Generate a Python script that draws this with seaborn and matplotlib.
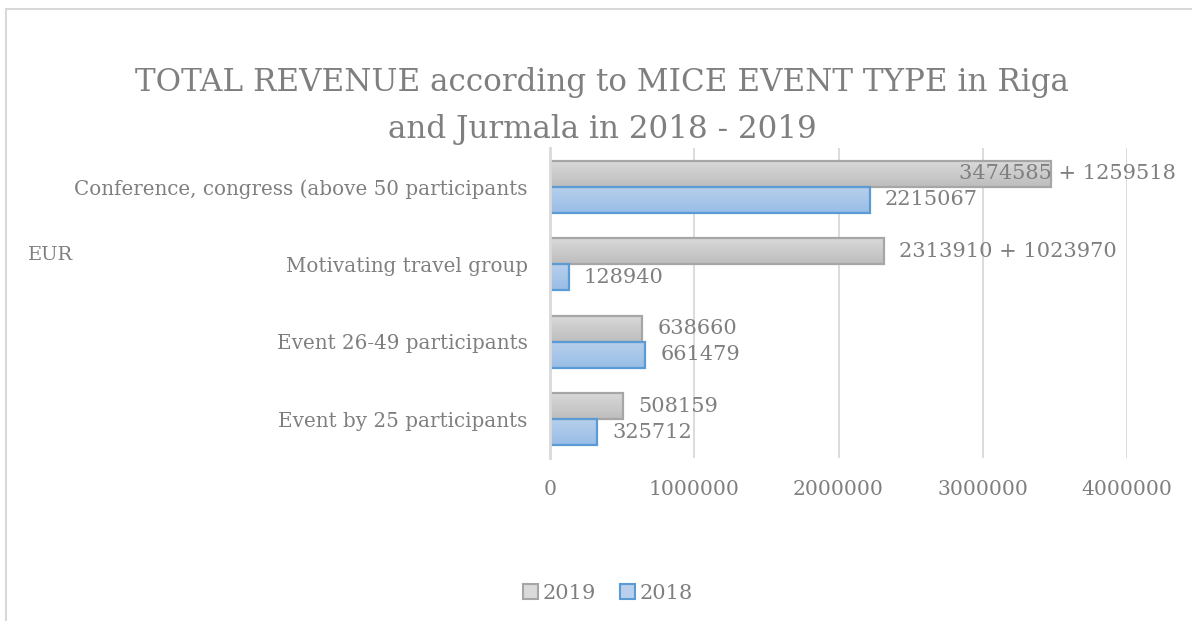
import numpy as np
import pandas as pd
import matplotlib
matplotlib.use("Agg")
import matplotlib.pyplot as plt
import seaborn as sns
from matplotlib.colors import LinearSegmentedColormap
from matplotlib.patches import Rectangle, Patch

# data
categories = [
    "Conference, congress (above 50 participants",
    "Motivating travel group",
    "Event 26-49 participants",
    "Event by 25 participants",
]
years = ["2019", "2018"]
revenue_2019 = [3474585, 2313910, 638660, 508159]
revenue_2018 = [2215067, 128940, 661479, 325712]
labels_2019 = ["3474585 + 1259518", "2313910 + 1023970", "638660", "508159"]
labels_2018 = ["2215067", "128940", "661479", "325712"]
x_ticks = [0, 1000000, 2000000, 3000000, 4000000]

df = pd.DataFrame({
    "category": categories * 2,
    "revenue": revenue_2019 + revenue_2018,
    "year": [years[0]] * len(categories) + [years[1]] * len(categories),
})

TEXT = "#7f7f7f"
GRID = "#d9d9d9"
fills = {"2019": ("#dadada", "#bdbdbd"), "2018": ("#b8d0ec", "#98bde6")}
edges = {"2019": "#a6a6a6", "2018": "#5b9bd5"}

sns.set_theme(style="white")
plt.rcParams["font.family"] = ["DejaVu Serif"]

fig = plt.figure(figsize=(11.92, 6.21), dpi=100)
ax = fig.add_axes([0.4614, 0.2625, 0.4841, 0.4992])

sns.barplot(data=df, y="category", x="revenue", hue="year", hue_order=years,
            order=categories, orient="h", width=0.675,
            palette={y: fills[y][0] for y in years}, legend=False,
            saturation=1, ax=ax)

ax.set_xlim(0, 4000000)
ax.set_ylim(len(categories) - 0.5, -0.5)
xl, yl = ax.get_xlim(), ax.get_ylim()

# gradient fill + outline on each bar
for cont, yr in zip(ax.containers, years):
    cmap = LinearSegmentedColormap.from_list(yr, list(fills[yr]))
    for bar in cont:
        x0, y0 = bar.get_x(), bar.get_y()
        w, h = bar.get_width(), bar.get_height()
        grad = np.linspace(0, 1, 64).reshape(-1, 1)
        ax.imshow(grad, extent=(x0, x0 + w, y0 + h, y0), origin="upper",
                  aspect="auto", cmap=cmap, zorder=1.5, interpolation="bilinear")
        bar.set_facecolor("none")
        bar.set_edgecolor(edges[yr])
        bar.set_linewidth(1.6)
        bar.set_zorder(2)
ax.set_xlim(xl)
ax.set_ylim(yl)

ax.set_xticks(x_ticks)
ax.set_xticklabels([str(t) for t in x_ticks])
ax.xaxis.grid(True, color=GRID, lw=1.3)
ax.set_axisbelow(True)
for s in ["top", "right", "bottom"]:
    ax.spines[s].set_visible(False)
ax.spines["left"].set_color(GRID)
ax.spines["left"].set_linewidth(2)
ax.tick_params(axis="x", length=0, pad=16, labelsize=14.6, labelcolor=TEXT)
ax.tick_params(axis="y", length=0, pad=16, labelsize=14.3, labelcolor=TEXT)
ax.set_xlabel("")
ax.set_ylabel("")

# data labels, pulled back inside the chart area if they run off the right edge
fig.canvas.draw()
renderer = fig.canvas.get_renderer()
right_limit = fig.bbox.width - 16
for cont, labs in zip(ax.containers, [labels_2019, labels_2018]):
    texts = ax.bar_label(cont, labels=labs, padding=11, fontsize=15, color=TEXT)
    for t in texts:
        bb = t.get_window_extent(renderer)
        if bb.x1 > right_limit:
            t.xyann = (t.xyann[0] - (bb.x1 - right_limit) * 72 / fig.dpi, t.xyann[1])

fig.text(0.505, 0.829, "TOTAL REVENUE according to MICE EVENT TYPE in Riga\nand Jurmala in 2018 - 2019",
         ha="center", va="center", fontsize=22.3, color=TEXT, linespacing=1.65)
fig.text(28 / 1192, 0.589, "EUR", ha="left", va="center", fontsize=14, color=TEXT)

handles = [Patch(facecolor=fills[y][0], edgecolor=edges[y], lw=1.5) for y in years]
fig.legend(handles, years, loc="center", bbox_to_anchor=(0.51, 0.045), ncol=2,
           frameon=False, fontsize=15, handlelength=0.7, handleheight=0.7,
           handletextpad=0.2, columnspacing=1.2, labelcolor=TEXT)

fig.add_artist(Rectangle((6 / 1192, -0.1), 1.2, 1.1 - 8.5 / 621, transform=fig.transFigure,
                         fill=False, ec=GRID, lw=1.5))

fig.savefig("out.png", dpi=100)
